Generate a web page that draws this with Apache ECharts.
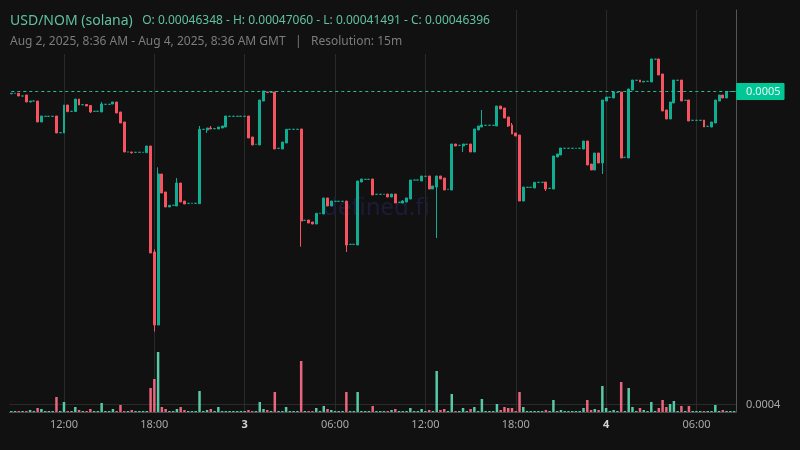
<!DOCTYPE html>
<html>
<head>
<meta charset="utf-8">
<style>
  html, body { margin: 0; padding: 0; background: #111111; }
  #chart { width: 800px; height: 450px; }
</style>
<script src="https://cdn.jsdelivr.net/npm/echarts@6/dist/echarts.min.js"></script>
</head>
<body>
<div id="chart"></div>
<script>
// 15m candles, Aug 2 08:30 to Aug 4 08:30 GMT
var opens = [
  0.00046348, 0.00046359, 0.00046359, 0.00046304, 0.00046324, 0.00046181, 0.00046201, 0.00046201, 0.00045773, 0.00045889,
  0.00045889, 0.00045889, 0.00045895, 0.00045554, 0.00045548, 0.00046120, 0.00045991, 0.00045987, 0.00046242, 0.00046126,
  0.00046130, 0.00046110, 0.00045991, 0.00045991, 0.00045977, 0.00046134, 0.00046134, 0.00046140, 0.00046181, 0.00045977,
  0.00045773, 0.00045160, 0.00045160, 0.00045153, 0.00045153, 0.00045153, 0.00045145, 0.00045282, 0.00043116, 0.00041624,
  0.00044710, 0.00044342, 0.00044036, 0.00044070, 0.00044056, 0.00044526, 0.00044158, 0.00044111, 0.00044111, 0.00044111,
  0.00044103, 0.00045623, 0.00045609, 0.00045650, 0.00045636, 0.00045630, 0.00045650, 0.00045670, 0.00045889, 0.00045889,
  0.00045889, 0.00045889, 0.00045889, 0.00045895, 0.00045466, 0.00045317, 0.00045303, 0.00046201, 0.00046386, 0.00046375,
  0.00046386, 0.00045235, 0.00045221, 0.00045343, 0.00045623, 0.00045623, 0.00045623, 0.00045630, 0.00043764, 0.00043770,
  0.00043729, 0.00043688, 0.00043907, 0.00043893, 0.00044220, 0.00044056, 0.00044152, 0.00044152, 0.00044152, 0.00044158,
  0.00043273, 0.00043273, 0.00043259, 0.00044546, 0.00044601, 0.00044601, 0.00044608, 0.00044295, 0.00044295, 0.00044295,
  0.00044301, 0.00044240, 0.00044301, 0.00044132, 0.00044117, 0.00044138, 0.00044199, 0.00044587, 0.00044587, 0.00044567,
  0.00044663, 0.00044669, 0.00044403, 0.00044444, 0.00044669, 0.00044628, 0.00044397, 0.00044383, 0.00045323, 0.00045296,
  0.00045282, 0.00045317, 0.00045323, 0.00045160, 0.00045609, 0.00045670, 0.00045705, 0.00045705, 0.00045705, 0.00045691,
  0.00046099, 0.00046058, 0.00045875, 0.00045711, 0.00045548, 0.00045507, 0.00044158, 0.00044438, 0.00044438, 0.00044424,
  0.00044540, 0.00044540, 0.00044546, 0.00044418, 0.00044403, 0.00045057, 0.00045098, 0.00045235, 0.00045235, 0.00045235,
  0.00045235, 0.00045235, 0.00045221, 0.00045384, 0.00044914, 0.00044792, 0.00045139, 0.00044935, 0.00046201, 0.00046277,
  0.00046263, 0.00046379, 0.00046386, 0.00045051, 0.00045037, 0.00046426, 0.00046625, 0.00046630, 0.00046590, 0.00046604,
  0.00046590, 0.00047056, 0.00047060, 0.00046753, 0.00046018, 0.00045834, 0.00046161, 0.00046625, 0.00046630, 0.00046216,
  0.00046222, 0.00045807, 0.00045807, 0.00045807, 0.00045813, 0.00045685, 0.00045670, 0.00045752, 0.00046201, 0.00046324,
  0.00046263, 0.00046396, 0.00046396
];
var closes = [
  0.00046359, 0.00046359, 0.00046304, 0.00046304, 0.00046181, 0.00046201, 0.00046201, 0.00045773, 0.00045895, 0.00045889,
  0.00045889, 0.00045889, 0.00045548, 0.00045554, 0.00046120, 0.00045983, 0.00045991, 0.00046242, 0.00046120, 0.00046126,
  0.00046099, 0.00045977, 0.00045991, 0.00045991, 0.00046140, 0.00046134, 0.00046134, 0.00046181, 0.00045956, 0.00045752,
  0.00045160, 0.00045160, 0.00045145, 0.00045153, 0.00045153, 0.00045153, 0.00045282, 0.00043096, 0.00041624, 0.00044710,
  0.00044322, 0.00044036, 0.00044070, 0.00044070, 0.00044526, 0.00044138, 0.00044097, 0.00044111, 0.00044111, 0.00044111,
  0.00045623, 0.00045623, 0.00045650, 0.00045630, 0.00045636, 0.00045670, 0.00045691, 0.00045895, 0.00045889, 0.00045889,
  0.00045889, 0.00045889, 0.00045889, 0.00045446, 0.00045303, 0.00045317, 0.00046222, 0.00046406, 0.00046375, 0.00046386,
  0.00045221, 0.00045235, 0.00045364, 0.00045623, 0.00045623, 0.00045623, 0.00045623, 0.00043750, 0.00043764, 0.00043709,
  0.00043688, 0.00043907, 0.00043907, 0.00044220, 0.00044056, 0.00044158, 0.00044152, 0.00044152, 0.00044152, 0.00043259,
  0.00043273, 0.00043273, 0.00044567, 0.00044608, 0.00044601, 0.00044601, 0.00044281, 0.00044295, 0.00044295, 0.00044295,
  0.00044240, 0.00044301, 0.00044117, 0.00044132, 0.00044158, 0.00044220, 0.00044587, 0.00044587, 0.00044587, 0.00044669,
  0.00044663, 0.00044403, 0.00044465, 0.00044669, 0.00044608, 0.00044383, 0.00044397, 0.00045323, 0.00045282, 0.00045296,
  0.00045323, 0.00045317, 0.00045160, 0.00045630, 0.00045691, 0.00045711, 0.00045705, 0.00045705, 0.00045705, 0.00046099,
  0.00046038, 0.00045854, 0.00045691, 0.00045527, 0.00045486, 0.00044158, 0.00044444, 0.00044438, 0.00044438, 0.00044540,
  0.00044540, 0.00044540, 0.00044403, 0.00044418, 0.00045078, 0.00045119, 0.00045241, 0.00045235, 0.00045235, 0.00045235,
  0.00045235, 0.00045235, 0.00045384, 0.00044894, 0.00044792, 0.00045139, 0.00044935, 0.00046222, 0.00046283, 0.00046277,
  0.00046386, 0.00046379, 0.00045037, 0.00045051, 0.00046447, 0.00046630, 0.00046625, 0.00046590, 0.00046604, 0.00046604,
  0.00047060, 0.00047056, 0.00046733, 0.00045997, 0.00045834, 0.00046181, 0.00046630, 0.00046625, 0.00046201, 0.00046216,
  0.00045793, 0.00045807, 0.00045807, 0.00045807, 0.00045670, 0.00045685, 0.00045773, 0.00046222, 0.00046324, 0.00046263,
  0.00046396, 0.00046396, 0.00046396
];
// only the candles with a visible wick, by candle index
var wickHighs = {
  24: 0.00046181, 38: 0.00043171, 39: 0.00044847, 44: 0.00044628, 50: 0.00045691,
  53: 0.00045691, 104: 0.00044179, 125: 0.00046018, 133: 0.00045752
};
var wickLows = {
  21: 0.00045956, 32: 0.00045125, 38: 0.00041491, 52: 0.00045548, 77: 0.00043224, 89: 0.00043116,
  113: 0.00043402, 120: 0.00045160, 132: 0.00045670, 142: 0.00044362, 157: 0.00044710
};
var volumes = [
  1, 1, 1, 1, 1, 2, 1, 4, 3, 1,
  1, 1, 15, 1, 10, 1, 1, 5, 2, 1,
  1, 3, 1, 1, 9, 1, 1, 3, 1, 7,
  1, 1, 2, 1, 1, 1, 1, 24, 33, 60,
  5, 3, 1, 1, 3, 5, 2, 1, 1, 1,
  21, 1, 2, 3, 1, 5, 1, 1, 1, 1,
  1, 1, 1, 2, 1, 1, 10, 3, 2, 1,
  20, 1, 1, 5, 1, 1, 1, 51, 1, 1,
  1, 4, 1, 6, 3, 2, 1, 1, 1, 20,
  1, 1, 20, 1, 1, 1, 6, 1, 1, 1,
  1, 2, 3, 1, 1, 1, 4, 1, 1, 3,
  1, 2, 1, 41, 2, 3, 1, 18, 1, 1,
  4, 1, 3, 5, 1, 13, 1, 1, 1, 8,
  2, 5, 4, 4, 1, 20, 5, 1, 1, 1,
  1, 1, 2, 1, 12, 1, 2, 1, 1, 1,
  1, 1, 4, 12, 2, 3, 2, 26, 4, 1,
  2, 1, 30, 1, 24, 5, 1, 4, 2, 1,
  10, 1, 4, 12, 5, 8, 11, 1, 6, 1,
  6, 1, 1, 1, 1, 1, 1, 7, 1, 2,
  1, 1, 1
];
var startTime = Date.UTC(2025, 7, 2, 8, 30);
var categories = closes.map(function (c, i) {
  return new Date(startTime + i * 15 * 60000).toISOString().slice(0, 16);
});
var yTicks = [0.0004];
var lastPrice = 0.00046396;
var lastPriceLabel = '0.0005';

var UP = '#11ad93';
var DOWN = '#f6525f';

function isLabelTick(i) {
  var t = categories[i];
  return t.slice(14) === '00' && Number(t.slice(11, 13)) % 6 === 0;
}

var candles = closes.map(function (c, i) {
  var o = opens[i];
  return [o, c, wickLows[i] || Math.min(o, c), wickHighs[i] || Math.max(o, c)];
});
var volumeBars = volumes.map(function (v, i) {
  return { value: v, itemStyle: { color: closes[i] < opens[i] ? '#e8667e' : '#57c9a6' } };
});
// dotted last-price line across the whole range
var lastPriceLine = closes.map(function () { return lastPrice; });

var chart = echarts.init(document.getElementById('chart'));
chart.setOption({
  backgroundColor: '#111111',
  animation: false,
  textStyle: { fontFamily: 'Noto Sans' },
  title: [{
    text: '{a|USD/NOM (solana)}  {b|O: 0.00046348 - H: 0.00047060 - L: 0.00041491 - C: 0.00046396}',
    left: 10, top: 12, padding: 0,
    textStyle: {
      fontWeight: 'normal',
      rich: {
        a: { fontFamily: 'Noto Sans', fontSize: 14, fontWeight: 'normal', color: '#5fc2a2' },
        b: { fontFamily: 'Noto Sans', fontSize: 12, fontWeight: 'normal', color: '#5fc2a2' }
      }
    }
  }, {
    text: 'Aug 2, 2025, 8:36 AM - Aug 4, 2025, 8:36 AM GMT   |   Resolution: 15m',
    left: 10, top: 36, padding: 0,
    textStyle: { fontFamily: 'Noto Sans', fontSize: 12, fontWeight: 'normal', color: '#7c7c7c' }
  }],
  graphic: [
    { type: 'rect', z: 5, shape: { x: 0, y: 0, width: 495, height: 54 }, style: { fill: '#111111' } },
    { type: 'text', z: 1, left: 323, top: 196, style: { text: 'defined.fi', fontFamily: 'Noto Sans', fontSize: 24, fill: '#1c1c38' } }
  ],
  grid: [
    { left: 9.4, top: 10, width: 726.6, height: 402 },
    { left: 9.4, top: 352, width: 726.6, height: 60 }
  ],
  xAxis: [{
    type: 'category', data: categories, gridIndex: 0,
    axisLine: { lineStyle: { color: '#4c4c4c' } },
    axisTick: { show: false },
    splitLine: { show: true, alignWithLabel: true, interval: isLabelTick, lineStyle: { color: '#2a2a2a' } },
    axisLabel: {
      interval: isLabelTick, margin: 7, fontSize: 11, color: '#a8a8a8',
      formatter: function (v) {
        return v.slice(11) === '00:00' ? '{day|' + Number(v.slice(8, 10)) + '}' : v.slice(11);
      },
      rich: { day: { fontSize: 11, fontWeight: 'bold', color: '#d4d4d4', fontFamily: 'Noto Sans' } }
    }
  }, {
    type: 'category', data: categories, gridIndex: 1, show: false
  }],
  yAxis: [{
    type: 'value', gridIndex: 0, position: 'right', scale: true,
    min: 0.00039847, max: 0.00048061,
    axisLine: { show: true, lineStyle: { color: '#555555' } },
    axisTick: { show: false, customValues: yTicks },
    splitLine: { show: true, lineStyle: { color: '#2a2a2a' } },
    axisLabel: {
      customValues: yTicks, margin: 10, fontSize: 11, color: '#a8a8a8',
      formatter: function (v) { return v.toFixed(4); }
    }
  }, {
    type: 'value', gridIndex: 1, min: 0, max: 60, show: false
  }],
  series: [{
    type: 'bar', xAxisIndex: 1, yAxisIndex: 1, data: volumeBars,
    barWidth: 2.5, silent: true
  }, {
    type: 'candlestick', xAxisIndex: 0, yAxisIndex: 0, data: candles,
    barWidth: 2.4,
    itemStyle: {
      color: UP, color0: DOWN,
      borderColor: UP, borderColor0: DOWN, borderColorDoji: UP, borderWidth: 1
    }
  }, {
    type: 'line', xAxisIndex: 0, yAxisIndex: 0, data: lastPriceLine,
    showSymbol: false, silent: true, z: 3,
    lineStyle: { color: '#2cc2a0', type: [3, 3], width: 1 },
    endLabel: {
      show: true, distance: 2, formatter: lastPriceLabel,
      backgroundColor: '#00c795', borderRadius: 1, color: '#e8f7f2',
      fontFamily: 'Noto Sans', fontSize: 11, padding: [3, 4, 3, 10]
    }
  }]
});
</script>
</body>
</html>
